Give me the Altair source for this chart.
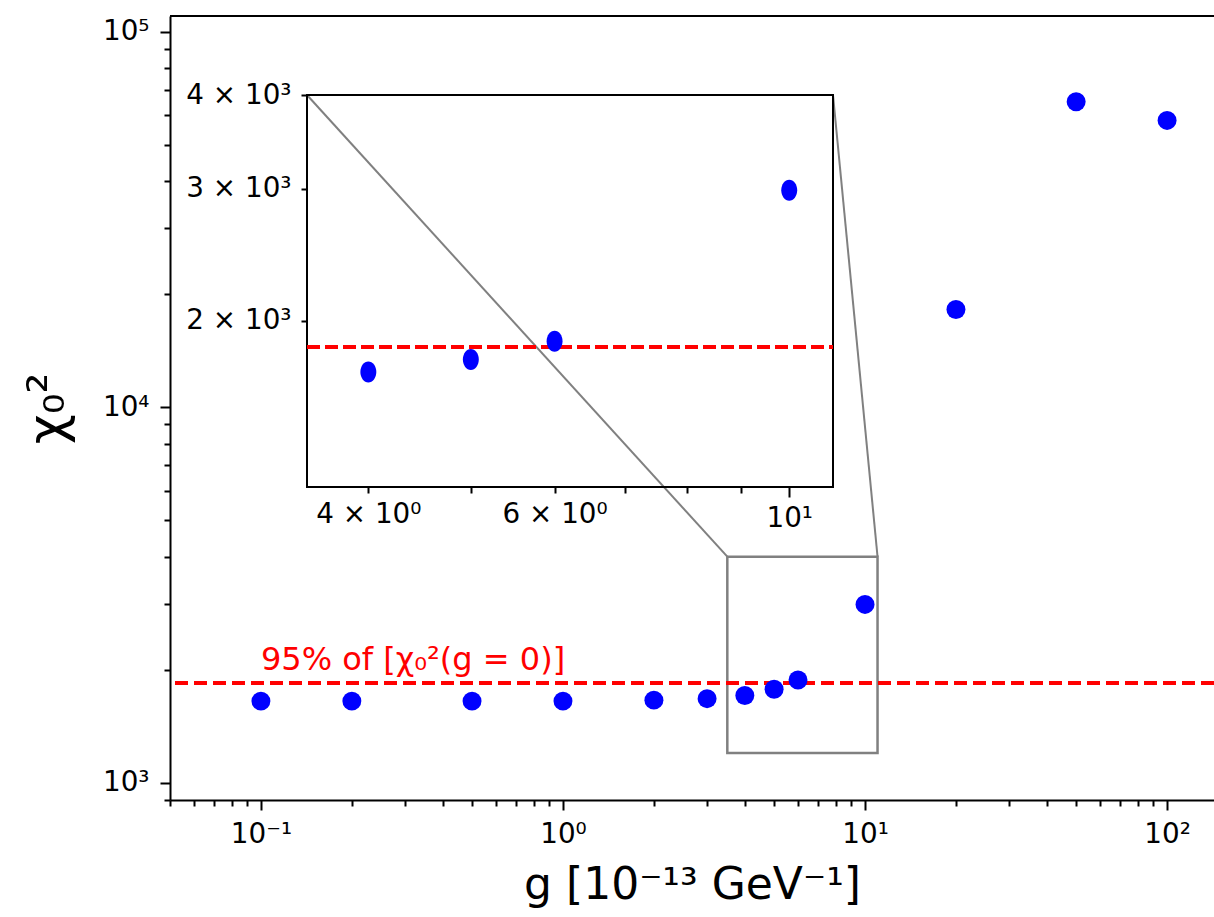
import altair as alt
import pandas as pd

# ---------------- data ----------------
g_values = [0.1, 0.2, 0.5, 1, 2, 3, 4, 5, 6, 10, 20, 50, 100]
chi2_values = [1650, 1650, 1650, 1650, 1660, 1675, 1708, 1775, 1878, 2985, 18200, 65000, 58000]
threshold_value = [1845]
threshold_label = ["95% of [χ₀²(g = 0)]"]
label_anchor_g = [0.1]
label_anchor_chi2 = [2000]

main_x_domain = [0.05, 143]
main_y_domain = [900, 110000]
inset_x_domain = [3.5, 11]
inset_y_domain = [1200, 4000]

main_x_major = [0.1, 1, 10, 100]
main_x_labels = ["10⁻¹", "10⁰", "10¹", "10²"]
main_x_minor = [0.05, 0.06, 0.07, 0.08, 0.09, 0.2, 0.3, 0.4, 0.5, 0.6, 0.7, 0.8, 0.9,
                2, 3, 4, 5, 6, 7, 8, 9, 20, 30, 40, 50, 60, 70, 80, 90]
main_y_major = [1000, 10000, 100000]
main_y_labels = ["10³", "10⁴", "10⁵"]
main_y_minor = [900, 2000, 3000, 4000, 5000, 6000, 7000, 8000, 9000,
                20000, 30000, 40000, 50000, 60000, 70000, 80000, 90000]

inset_x_major = [10]
inset_x_major_labels = ["10¹"]
inset_x_minor = [4, 5, 6, 7, 8, 9]
inset_x_minor_labelled = [4, 6]
inset_x_minor_labels = ["4 × 10⁰", "6 × 10⁰"]
inset_y_minor = [2000, 3000, 4000]
inset_y_minor_labels = ["2 × 10³", "3 × 10³", "4 × 10³"]

x_title = "g [10⁻¹³ GeV⁻¹]"
y_title = "χ₀²"

# ---------------- layout ----------------
W, H = 1044, 784
PAD = {"left": 170, "top": 16, "right": 0, "bottom": 117}
INSET_LEFT, INSET_RIGHT, INSET_TOP, INSET_BOTTOM = 137, 663, 79, 471
FONT = "DejaVu Sans"
BLUE = "#0000ff"
RED = "#ff0000"
GRAY = "#808080"
MAJOR, MINOR = 10, 6


def label_expr(vals, labels):
    expr = "''"
    for v, lab in reversed(list(zip(vals, labels))):
        expr = f"abs(datum.value - {v}) < 1e-9 ? '{lab}' : {expr}"
    return expr


df = pd.DataFrame({"g": g_values, "chi2": chi2_values})

xs = alt.Scale(type="log", domain=main_x_domain, nice=False)
ys = alt.Scale(type="log", domain=main_y_domain, nice=False)

x_axis = alt.Axis(orient="bottom", values=main_x_major,
                  labelExpr=label_expr(main_x_major, main_x_labels),
                  tickSize=MAJOR, labelPadding=10, title=x_title,
                  titleFontSize=44, titlePadding=16, titleFontWeight="normal",
                  labelFlush=False, labelOverlap=False)
y_axis = alt.Axis(orient="left", values=main_y_major,
                  labelExpr=label_expr(main_y_major, main_y_labels),
                  tickSize=MAJOR, labelPadding=11, title=y_title,
                  titleFontSize=52, titlePadding=28, titleFontWeight="normal",
                  labelFlush=False, labelOverlap=False)
x_axis_minor = alt.Axis(orient="bottom", values=main_x_minor, tickSize=MINOR,
                        labels=False, domain=False, title=None)
y_axis_minor = alt.Axis(orient="left", values=main_y_minor, tickSize=MINOR,
                        labels=False, domain=False, title=None)

points = alt.Chart(df).mark_circle(size=360, color=BLUE, opacity=1).encode(
    x=alt.X("g:Q", scale=xs, axis=x_axis),
    y=alt.Y("chi2:Q", scale=ys, axis=y_axis),
)
minor_ticks = alt.Chart(df).mark_point(opacity=0).encode(
    x=alt.X("g:Q", scale=xs, axis=x_axis_minor),
    y=alt.Y("chi2:Q", scale=ys, axis=y_axis_minor),
)

thr_df = pd.DataFrame({"chi2": threshold_value})
rule = alt.Chart(thr_df).mark_rule(color=RED, strokeWidth=4, strokeDash=[13, 6]).encode(
    y=alt.Y("chi2:Q", scale=ys, axis=None)
)

lab_df = pd.DataFrame({"g": label_anchor_g, "chi2": label_anchor_chi2, "t": threshold_label})
text = alt.Chart(lab_df).mark_text(color=RED, font=FONT, fontSize=32, align="left",
                                   baseline="alphabetic").encode(
    x=alt.X("g:Q", scale=xs, axis=None),
    y=alt.Y("chi2:Q", scale=ys, axis=None),
    text="t:N",
)

box_df = pd.DataFrame({"g": [inset_x_domain[0]], "g2": [inset_x_domain[1]],
                       "chi2": [inset_y_domain[0]], "chi2b": [inset_y_domain[1]]})
zoom_rect = alt.Chart(box_df).mark_rect(fillOpacity=0, stroke=GRAY, strokeWidth=2.5).encode(
    x=alt.X("g:Q", scale=xs, axis=None), x2="g2:Q",
    y=alt.Y("chi2:Q", scale=ys, axis=None), y2="chi2b:Q",
)

c1_df = pd.DataFrame({"g": [inset_x_domain[0]], "chi2": [inset_y_domain[1]]})
c2_df = pd.DataFrame({"g": [inset_x_domain[1]], "chi2": [inset_y_domain[1]]})
conn1 = alt.Chart(c1_df).mark_rule(color=GRAY, strokeWidth=2).encode(
    x=alt.X("g:Q", scale=xs, axis=None), x2=alt.value(INSET_LEFT),
    y=alt.Y("chi2:Q", scale=ys, axis=None), y2=alt.value(INSET_TOP),
)
conn2 = alt.Chart(c2_df).mark_rule(color=GRAY, strokeWidth=2).encode(
    x=alt.X("g:Q", scale=xs, axis=None), x2=alt.value(INSET_RIGHT),
    y=alt.Y("chi2:Q", scale=ys, axis=None), y2=alt.value(INSET_TOP),
)

top_frame = alt.Chart(thr_df).mark_rule(color="black", strokeWidth=2).encode(
    x=alt.value(0), x2=alt.value(W), y=alt.value(0)
)

main = alt.layer(top_frame, zoom_rect, conn1, conn2, rule, minor_ticks, points, text).resolve_axis(
    x="independent", y="independent")

# ---------------- inset ----------------
ixs = alt.Scale(type="log", domain=inset_x_domain, nice=False, range=[INSET_LEFT, INSET_RIGHT])
iys = alt.Scale(type="log", domain=inset_y_domain, nice=False, range=[INSET_BOTTOM, INSET_TOP])

ix_axis = alt.Axis(orient="bottom", offset=-(H - INSET_BOTTOM), values=inset_x_major,
                   labelExpr=label_expr(inset_x_major, inset_x_major_labels),
                   tickSize=MAJOR, labelPadding=7, domain=False, title=None,
                   labelFlush=False, labelOverlap=False)
ix_axis_minor = alt.Axis(orient="bottom", offset=-(H - INSET_BOTTOM), values=inset_x_minor,
                         labelExpr=label_expr(inset_x_minor_labelled, inset_x_minor_labels),
                         tickSize=MINOR, labelPadding=7, domain=False, title=None,
                         labelFlush=False, labelOverlap=False)
iy_axis = alt.Axis(orient="left", offset=-INSET_LEFT, values=inset_y_minor,
                   labelExpr=label_expr(inset_y_minor, inset_y_minor_labels),
                   tickSize=MINOR, labelPadding=10, domain=False, title=None,
                   labelFlush=False, labelOverlap=False)

inset_frame = alt.Chart(box_df).mark_rect(fillOpacity=0, stroke="black", strokeWidth=2).encode(
    x=alt.X("g:Q", scale=ixs, axis=ix_axis), x2="g2:Q",
    y=alt.Y("chi2:Q", scale=iys, axis=iy_axis), y2="chi2b:Q",
)

irule_df = pd.DataFrame({"g": [inset_x_domain[0]], "g2": [inset_x_domain[1]], "chi2": threshold_value})
inset_rule = alt.Chart(irule_df).mark_rule(color=RED, strokeWidth=4, strokeDash=[13, 5]).encode(
    x=alt.X("g:Q", scale=ixs, axis=ix_axis_minor), x2="g2:Q",
    y=alt.Y("chi2:Q", scale=iys, axis=None),
)

ellipse = "M-0.76,0A0.76,1,0,1,1,0.76,0A0.76,1,0,1,1,-0.76,0Z"
inset_points = alt.Chart(df).transform_filter(
    (alt.datum.g >= inset_x_domain[0]) & (alt.datum.g <= inset_x_domain[1])
).mark_point(shape=ellipse, size=440, filled=True, color=BLUE, opacity=1).encode(
    x=alt.X("g:Q", scale=ixs, axis=None),
    y=alt.Y("chi2:Q", scale=iys, axis=None),
)

inset = alt.layer(inset_frame, inset_rule, inset_points).resolve_axis(x="independent", y="independent")

chart = alt.layer(main, inset).resolve_scale(x="independent", y="independent").properties(
    width=W, height=H, padding=PAD, autosize=alt.AutoSizeParams(type="none"),
    background="white",
).configure_view(stroke=None).configure_axis(
    grid=False, labelFont=FONT, titleFont=FONT, labelFontSize=27.8, labelColor="black",
    titleColor="black", tickColor="black", domainColor="black", tickWidth=2, domainWidth=2,
)

chart.save("out.html", embed_options={"renderer": "svg", "actions": False})
